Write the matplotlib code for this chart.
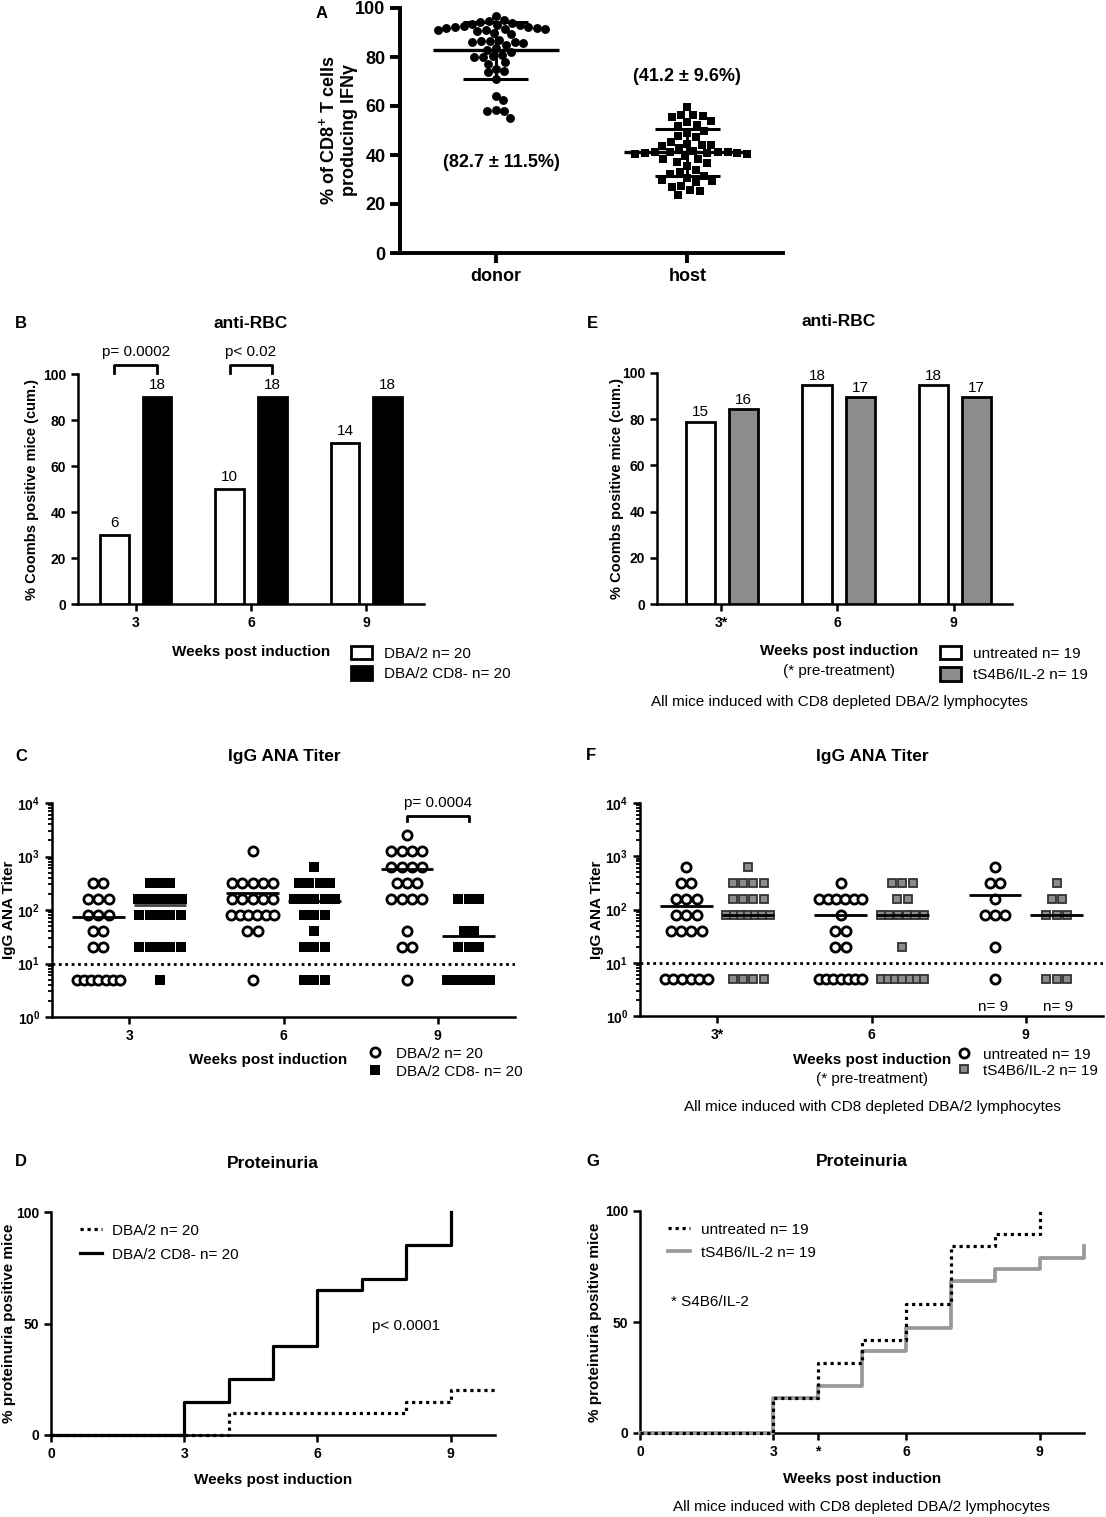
import numpy as np
import matplotlib
matplotlib.use("Agg")
import matplotlib.pyplot as plt
from matplotlib.lines import Line2D
from matplotlib.patches import Patch
from matplotlib.ticker import FuncFormatter, LogLocator, NullFormatter

plt.rcParams['font.family'] = ['Liberation Sans', 'DejaVu Sans']
plt.rcParams['mathtext.fontset'] = 'custom'
plt.rcParams['mathtext.rm'] = 'Liberation Sans'
plt.rcParams['mathtext.bf'] = 'Liberation Sans:bold'

# ---------------- data ----------------
# A: % of CD8+ T cells producing IFNg
a_groups = ['donor', 'host']
a_donor = [96.6, 95.2, 94.5, 94.2, 93.8, 93.5, 93.2, 92.9, 92.6, 92.4, 92.2, 92.0,
           91.8, 91.6, 91.4, 91.2, 91.0, 90.6, 89.6, 89.4, 87.0, 86.5, 86.4, 86.2,
           86.0, 85.6, 84.9, 83.6, 83.0, 82.0, 81.0, 80.3, 80.0, 79.9, 77.8, 77.3,
           75.1, 74.1, 73.7, 71.2, 63.9, 62.3, 58.2, 57.8, 57.8, 55.1]
a_host = [59.5, 56.5, 56.5, 55.8, 55.5, 53.7, 53.3, 52.4, 52.0, 49.7, 49.0, 47.6,
          47.3, 45.2, 44.6, 44.2, 44.2, 43.8, 42.9, 41.5, 41.4, 41.3, 41.2, 41.1,
          41.0, 40.9, 40.8, 40.6, 40.5, 39.5, 38.4, 38.2, 37.0, 36.8, 35.4, 33.7,
          33.0, 32.2, 31.6, 30.6, 30.0, 29.3, 28.8, 27.5, 26.9, 25.6, 25.2, 23.8]
a_mean = [82.7, 41.2]
a_sd = [11.5, 9.6]

weeks = ['3', '6', '9']
weeks_pre = ['3*', '6', '9']

# B: anti-RBC, % Coombs positive (cum.)
b_dba = [30, 50, 70]
b_cd8 = [90, 90, 90]
b_dba_n = [6, 10, 14]
b_cd8_n = [18, 18, 18]

# E: anti-RBC, treated vs untreated
e_unt = [78.9, 94.7, 94.7]
e_trt = [84.2, 89.5, 89.5]
e_unt_n = [15, 18, 18]
e_trt_n = [16, 17, 17]

# C / F: IgG ANA titer, number of mice per titer level
titer_levels = [5, 20, 40, 80, 160, 320, 640, 1280, 2560]
c_dba = [[7, 2, 2, 3, 3, 2, 0, 0, 0],
         [1, 0, 2, 6, 5, 5, 0, 1, 0],
         [1, 2, 1, 0, 4, 3, 4, 4, 1]]
c_cd8 = [[1, 5, 0, 5, 6, 3, 0, 0, 0],
         [3, 3, 1, 3, 5, 4, 1, 0, 0],
         [12, 3, 2, 0, 3, 0, 0, 0, 0]]
c_dba_line = [73, 211, 588]
c_cd8_line = [125, 148, 32.5]

f_unt = [[6, 0, 4, 3, 3, 2, 1, 0, 0],
         [7, 2, 2, 1, 6, 1, 0, 0, 0],
         [1, 1, 0, 3, 1, 2, 1, 0, 0]]
f_trt = [[4, 0, 0, 7, 4, 4, 1, 0, 0],
         [7, 1, 0, 6, 2, 3, 0, 0, 0],
         [3, 0, 0, 3, 2, 1, 0, 0, 0]]
f_unt_line = [115, 80, 191]
f_trt_line = [80, 80, 80]

# D / G: proteinuria, cumulative %
d_dba_wk = [0, 4, 8, 9, 10]
d_dba_pct = [0, 10, 15, 20, 20]
d_cd8_wk = [0, 3, 4, 5, 6, 7, 8, 9]
d_cd8_pct = [0, 15, 25, 40, 65, 70, 85, 100]

g_unt_wk = [0, 3, 4, 5, 6, 7, 8, 9]
g_unt_pct = [0, 15.8, 31.6, 42.1, 57.9, 84.2, 89.5, 100]
g_trt_wk = [0, 3, 4, 5, 6, 7, 8, 9, 10]
g_trt_pct = [0, 15.8, 21.1, 36.8, 47.4, 68.4, 73.7, 78.9, 84.2]

# ---------------- layout ----------------
W, H = 1106, 1517
fig = plt.figure(figsize=(W / 100, H / 100), dpi=100)

FS = 11      # plain text
TFS = 12.5   # panel titles
TICK = 10


def add_ax(l, t, r, b):
    return fig.add_axes([l / W, 1 - b / H, (r - l) / W, (b - t) / H])


def ftext(x, y, s, **kw):
    kw.setdefault('ha', 'center')
    kw.setdefault('va', 'center')
    fig.text(x / W, 1 - y / H, s, **kw)


def style(ax, lw=1.8, size=TICK, length=5):
    for s in ['top', 'right']:
        ax.spines[s].set_visible(False)
    for s in ['left', 'bottom']:
        ax.spines[s].set_linewidth(lw)
    ax.tick_params(width=lw, length=length, labelsize=size, direction='out')
    for lab in ax.get_xticklabels() + ax.get_yticklabels():
        lab.set_fontweight('bold')


def ylab(ax, x_px, text, size=11):
    pos = ax.get_position()
    xa = (x_px / W - pos.x0) / pos.width
    ax.text(xa, 0.5, text, transform=ax.transAxes, rotation=90, ha='center',
            va='center', fontsize=size, fontweight='bold')


def put_legend(ax, handles, labels, x_handle, y1, y2, x_text, hl_px, fs=FS):
    em = fs * 100 / 72
    ax.legend(handles, labels, loc='center left',
              bbox_to_anchor=(x_handle / W, 1 - (y1 + y2) / 2 / H),
              bbox_transform=fig.transFigure, frameon=False, fontsize=fs,
              borderpad=0, borderaxespad=0, handlelength=hl_px / em,
              handletextpad=(x_text - x_handle - hl_px) / em,
              labelspacing=(y2 - y1) / em - 1.15, handleheight=1.0)


def swarm(vals, ypx, xpx, d):
    vals = np.asarray(vals, float)
    xs = np.zeros(len(vals))
    placed = []
    for i in np.argsort(vals)[::-1]:
        y = vals[i] * ypx
        cands = [0.0]
        for px_, py_ in placed:
            dy = abs(py_ - y)
            if dy < d:
                dx = np.sqrt(d * d - dy * dy)
                cands += [px_ + dx, px_ - dx]
        cands.sort(key=abs)
        for c in cands:
            if all((c - px_) ** 2 + (y - py_) ** 2 >= d * d - 1e-6 for px_, py_ in placed):
                xs[i] = c
                placed.append((c, y))
                break
    return xs / xpx


# ---------------- A ----------------
axA = add_ax(400, 8, 783, 253)
a_xpx = 383 / 2.0
a_ypx = 245 / 100.0
for i, (vals, mk, ms, d) in enumerate([(a_donor, 'o', 6.4, 8.6), (a_host, 's', 6.0, 9.6)]):
    xs = swarm(vals, a_ypx, a_xpx, d)
    axA.plot(i + xs, vals, mk, color='black', ms=ms, mew=0, zorder=3)
    m, s = a_mean[i], a_sd[i]
    axA.hlines(m, i - 0.33, i + 0.33, color='black', lw=2.4, zorder=4)
    axA.vlines(i, m - s, m + s, color='black', lw=2.2, zorder=4)
    axA.hlines([m - s, m + s], i - 0.17, i + 0.17, color='black', lw=2.2, zorder=4)
axA.text(0.03, 37, '(82.7 ± 11.5%)', ha='center', va='center', fontsize=13, fontweight='bold')
axA.text(1.0, 72, '(41.2 ± 9.6%)', ha='center', va='center', fontsize=13, fontweight='bold')
axA.set_xlim(-0.5, 1.5)
axA.set_ylim(0, 100)
axA.set_yticks(range(0, 101, 20))
axA.set_xticks([0, 1])
axA.set_xticklabels(a_groups)
style(axA, lw=2.8, size=13, length=7)
ylab(axA, 338, '% of CD8$^{\\mathbf{+}}$ T cells\nproducing IFNγ', size=13)
ftext(322, 14, 'A', fontsize=12, fontweight='bold')

# ---------------- B ----------------
axB = add_ax(78, 374, 424, 604)
x = np.arange(3)
off, bw = 0.185, 0.25
axB.bar(x - off, b_dba, bw, color='white', edgecolor='black', lw=2.0, zorder=3)
axB.bar(x + off, b_cd8, bw, color='black', edgecolor='black', lw=2.0, zorder=3)
for i in range(3):
    axB.text(i - off, b_dba[i] + 2, str(b_dba_n[i]), ha='center', va='bottom', fontsize=FS)
    axB.text(i + off, b_cd8[i] + 2, str(b_cd8_n[i]), ha='center', va='bottom', fontsize=FS)
for i, p in [(0, 'p= 0.0002'), (1, 'p< 0.02')]:
    axB.plot([i - off, i - off, i + off, i + off], [100.5, 103.7, 103.7, 100.5],
             color='black', lw=2.0, clip_on=False)
    axB.text(i, 109.5, p, ha='center', va='center', fontsize=FS)
axB.set_xlim(-0.5, 2.5)
axB.set_ylim(0, 100)
axB.set_yticks(range(0, 101, 20))
axB.set_xticks(x)
axB.set_xticklabels(weeks)
style(axB)
ylab(axB, 32, '% Coombs positive mice (cum.)', size=10.5)
ftext(21, 324, 'B', fontsize=12, fontweight='bold')
ftext(251, 324, 'anti-RBC', fontsize=TFS, fontweight='bold')
ftext(251, 652, 'Weeks post induction', fontsize=FS, fontweight='bold')
put_legend(axB, [Patch(fc='white', ec='black', lw=2.0), Patch(fc='black', ec='black', lw=2.0)],
           ['DBA/2 n= 20', 'DBA/2 CD8- n= 20'], 351, 652, 675, 384, 21)

# ---------------- E ----------------
axE = add_ax(657, 373, 1012, 604)
grey = '#8c8c8c'
axE.bar(x - 0.175, e_unt, bw, color='white', edgecolor='black', lw=2.0, zorder=3)
axE.bar(x + 0.195, e_trt, bw, color=grey, edgecolor='black', lw=2.0, zorder=3)
for i in range(3):
    axE.text(i - 0.175, e_unt[i] + 1, str(e_unt_n[i]), ha='center', va='bottom', fontsize=FS)
    axE.text(i + 0.195, e_trt[i] + 1, str(e_trt_n[i]), ha='center', va='bottom', fontsize=FS)
axE.set_xlim(-0.55, 2.5)
axE.set_ylim(0, 100)
axE.set_yticks(range(0, 101, 20))
axE.set_xticks(x)
axE.set_xticklabels(weeks_pre)
style(axE)
ylab(axE, 617, '% Coombs positive mice (cum.)', size=10.5)
ftext(592, 324, 'E', fontsize=12, fontweight='bold')
ftext(839, 322, 'anti-RBC', fontsize=TFS, fontweight='bold')
ftext(839, 651, 'Weeks post induction', fontsize=FS, fontweight='bold')
ftext(839, 671, '(* pre-treatment)', fontsize=FS)
ftext(839, 702, 'All mice induced with CD8 depleted DBA/2 lymphocytes', fontsize=FS)
put_legend(axE, [Patch(fc='white', ec='black', lw=2.0), Patch(fc=grey, ec='black', lw=2.0)],
           ['untreated n= 19', 'tS4B6/IL-2 n= 19'], 940, 652, 676, 973, 21)


# ---------------- C / F helpers ----------------
def titer_cols(ax, counts, xc, **mk):
    step, maxspan = 0.067, 0.28
    for lev, n in zip(titer_levels, counts):
        if n == 0:
            continue
        span = min((n - 1) * step, maxspan)
        xs = np.linspace(-span / 2, span / 2, n) if n > 1 else np.array([0.0])
        ax.plot(xc + xs, [lev] * n, ls='none', zorder=3, clip_on=False, **mk)


def log_axis(ax):
    ax.set_yscale('log')
    ax.set_ylim(1, 1e4)
    ax.set_xlim(-0.5, 2.5)
    ax.yaxis.set_major_locator(LogLocator(base=10, numticks=10))
    ax.yaxis.set_minor_locator(LogLocator(base=10, subs=np.arange(2, 10), numticks=10))
    ax.yaxis.set_minor_formatter(NullFormatter())
    ax.yaxis.set_major_formatter(FuncFormatter(
        lambda v, p: '$\\mathbf{10^{%d}}$' % int(round(np.log10(v)))))
    ax.axhline(10, color='black', ls=(0, (1, 1.3)), lw=2.0, zorder=2)
    ax.set_xticks([0, 1, 2])
    style(ax)
    ax.tick_params(axis='y', which='minor', width=1.3, length=3)


circ = dict(marker='o', mfc='white', mec='black', mew=2.0, ms=6.6)
sq_blk = dict(marker='s', mfc='black', mec='black', mew=0, ms=7.2)
sq_gry = dict(marker='s', mfc=grey, mec='#333333', mew=1.3, ms=6.3)

# ---------------- C ----------------
axC = add_ax(52, 803, 515, 1017)
for i in range(3):
    titer_cols(axC, c_dba[i], i - 0.2, **circ)
    titer_cols(axC, c_cd8[i], i + 0.2, **sq_blk)
    axC.hlines(c_dba_line[i], i - 0.37, i - 0.03, color='black', lw=2.0, zorder=4)
    axC.hlines(c_cd8_line[i], i + 0.03, i + 0.37, color='#444444' if i == 0 else 'black',
               lw=2.0, zorder=4)
log_axis(axC)
axC.set_xticklabels(weeks)
axC.plot([1.8, 1.8, 2.2, 2.2], [4650, 5800, 5800, 4650], color='black', lw=2.0, clip_on=False)
axC.text(2.0, 10000, 'p= 0.0004', ha='center', va='center', fontsize=FS)
ylab(axC, 9, 'IgG ANA Titer')
ftext(21, 757, 'C', fontsize=12, fontweight='bold')
ftext(284, 757, 'IgG ANA Titer', fontsize=TFS, fontweight='bold')
ftext(268, 1060, 'Weeks post induction', fontsize=FS, fontweight='bold')
put_legend(axC, [Line2D([], [], ls='none', **circ), Line2D([], [], ls='none', **sq_blk)],
           ['DBA/2 n= 20', 'DBA/2 CD8- n= 20'], 369, 1052, 1073, 396, 12)

# ---------------- F ----------------
axF = add_ax(640, 803, 1103, 1016)
for i in range(3):
    titer_cols(axF, f_unt[i], i - 0.2, **circ)
    titer_cols(axF, f_trt[i], i + 0.2, **sq_gry)
    axF.hlines(f_unt_line[i], i - 0.37, i - 0.03, color='black', lw=2.0, zorder=4)
    axF.hlines(f_trt_line[i], i + 0.03, i + 0.37, color='black', lw=2.0, zorder=4)
log_axis(axF)
axF.set_xticklabels(weeks_pre)
axF.text(1.79, 1.5, 'n= 9', ha='center', va='center', fontsize=FS)
axF.text(2.21, 1.5, 'n= 9', ha='center', va='center', fontsize=FS)
ylab(axF, 597, 'IgG ANA Titer')
ftext(591, 756, 'F', fontsize=12, fontweight='bold')
ftext(872, 756, 'IgG ANA Titer', fontsize=TFS, fontweight='bold')
ftext(872, 1060, 'Weeks post induction', fontsize=FS, fontweight='bold')
ftext(872, 1079, '(* pre-treatment)', fontsize=FS)
ftext(872, 1107, 'All mice induced with CD8 depleted DBA/2 lymphocytes', fontsize=FS)
put_legend(axF, [Line2D([], [], ls='none', **circ), Line2D([], [], ls='none', **sq_gry)],
           ['untreated n= 19', 'tS4B6/IL-2 n= 19'], 958, 1053, 1072, 983, 12)

# ---------------- D ----------------
dot = (0, (1, 1.2))
axD = add_ax(51, 1212, 495, 1435)
axD.step(d_dba_wk, d_dba_pct, where='post', color='black', ls=dot, lw=2.3, clip_on=False, zorder=3)
axD.step(d_cd8_wk, d_cd8_pct, where='post', color='black', lw=2.3, clip_on=False, zorder=3)
axD.set_xlim(0, 10)
axD.set_ylim(0, 100)
axD.set_xticks([0, 3, 6, 9])
axD.set_yticks([0, 50, 100])
style(axD)
axD.text(7.22, 49, 'p< 0.0001', ha='left', va='center', fontsize=FS)
ylab(axD, 9, '% proteinuria positive mice')
ftext(21, 1162, 'D', fontsize=12, fontweight='bold')
ftext(273, 1164, 'Proteinuria', fontsize=TFS, fontweight='bold')
ftext(273, 1480, 'Weeks post induction', fontsize=FS, fontweight='bold')
put_legend(axD, [Line2D([], [], color='black', ls=dot, lw=2.3), Line2D([], [], color='black', lw=2.3)],
           ['DBA/2 n= 20', 'DBA/2 CD8- n= 20'], 80, 1229, 1256, 111.5, 22)

# ---------------- G ----------------
axG = add_ax(640, 1211, 1084, 1433)
axG.step(g_trt_wk, g_trt_pct, where='post', color='#999999', lw=2.7, clip_on=False, zorder=3)
axG.step(g_unt_wk, g_unt_pct, where='post', color='black', ls=dot, lw=2.3, clip_on=False, zorder=4)
axG.set_xlim(0, 10)
axG.set_ylim(0, 100)
axG.set_xticks([0, 3, 4, 6, 9])
axG.set_xticklabels(['0', '3', '*', '6', '9'])
axG.set_yticks([0, 50, 100])
style(axG)
axG.text(0.69, 59, '* S4B6/IL-2', ha='left', va='center', fontsize=FS)
ylab(axG, 595, '% proteinuria positive mice')
ftext(593, 1161, 'G', fontsize=12, fontweight='bold')
ftext(862, 1162, 'Proteinuria', fontsize=TFS, fontweight='bold')
ftext(862, 1479, 'Weeks post induction', fontsize=FS, fontweight='bold')
ftext(861, 1507, 'All mice induced with CD8 depleted DBA/2 lymphocytes', fontsize=FS)
put_legend(axG, [Line2D([], [], color='black', ls=dot, lw=2.3), Line2D([], [], color='#999999', lw=2.7)],
           ['untreated n= 19', 'tS4B6/IL-2 n= 19'], 668, 1228, 1254, 701, 22)

fig.savefig('out.png', dpi=100)
